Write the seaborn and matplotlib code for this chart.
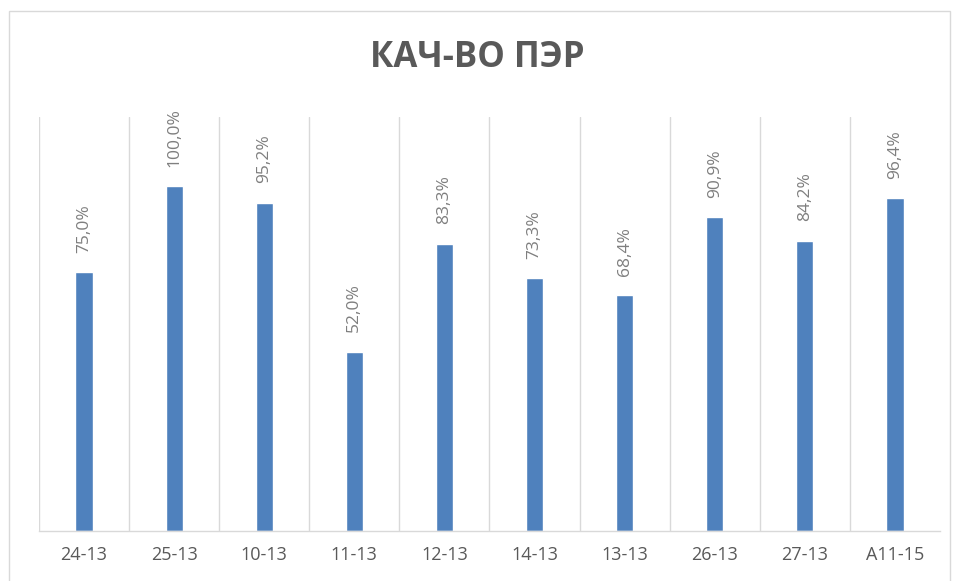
import numpy as np
import pandas as pd
import matplotlib
matplotlib.use("Agg")
import matplotlib.pyplot as plt
import seaborn as sns
from matplotlib.patches import Rectangle

groups = ["24-13", "25-13", "10-13", "11-13", "12-13", "14-13", "13-13", "26-13", "27-13", "А11-15"]
quality = [75.0, 100.0, 95.2, 52.0, 83.3, 73.3, 68.4, 90.9, 84.2, 96.4]

sns.set_style("white")
plt.rcParams['font.family'] = ['Open Sans', 'DejaVu Sans']

df = pd.DataFrame({"group": groups, "quality": quality})

fig = plt.figure(figsize=(9.55, 5.81), dpi=100)
ax = fig.add_axes([0.0408, 0.0861, 0.9435, 0.7125])

sns.barplot(data=df, x="group", y="quality", color="#4F81BD", width=0.19,
            saturation=1, ax=ax)

# data labels, rotated like in the original
labels = [f"{v:.1f}%".replace(".", ",") for v in quality]
ax.bar_label(ax.containers[0], labels=labels, rotation=90, padding=14,
             fontsize=12.5, color="#7F7F7F")

ax.set_ylim(0, 120)
ax.set_xlim(-0.5, len(groups) - 0.5)
ax.set_yticks([])
ax.set_xticks(np.arange(len(groups)) - 0.5, minor=True)
ax.grid(axis="x", which="minor", color="#D9D9D9", linewidth=1)
ax.grid(axis="x", which="major", visible=False)
ax.tick_params(axis="x", which="both", length=0, pad=11, labelsize=13, labelcolor="#595959")
ax.set_xlabel("")
ax.set_ylabel("")
for side in ["left", "right", "top"]:
    ax.spines[side].set_visible(False)
ax.spines["bottom"].set_color("#D9D9D9")
ax.spines["bottom"].set_linewidth(1)

fig.text(0.5, 0.9, "КАЧ-ВО ПЭР", ha="center", va="center", fontsize=25,
         fontweight="bold", color="#595959")

# outer chart frame
fig.patches.append(Rectangle((0.0094, -0.01), 0.985, 0.991, transform=fig.transFigure,
                             fill=False, edgecolor="#D9D9D9", linewidth=1))

fig.savefig("out.png", dpi=100)
